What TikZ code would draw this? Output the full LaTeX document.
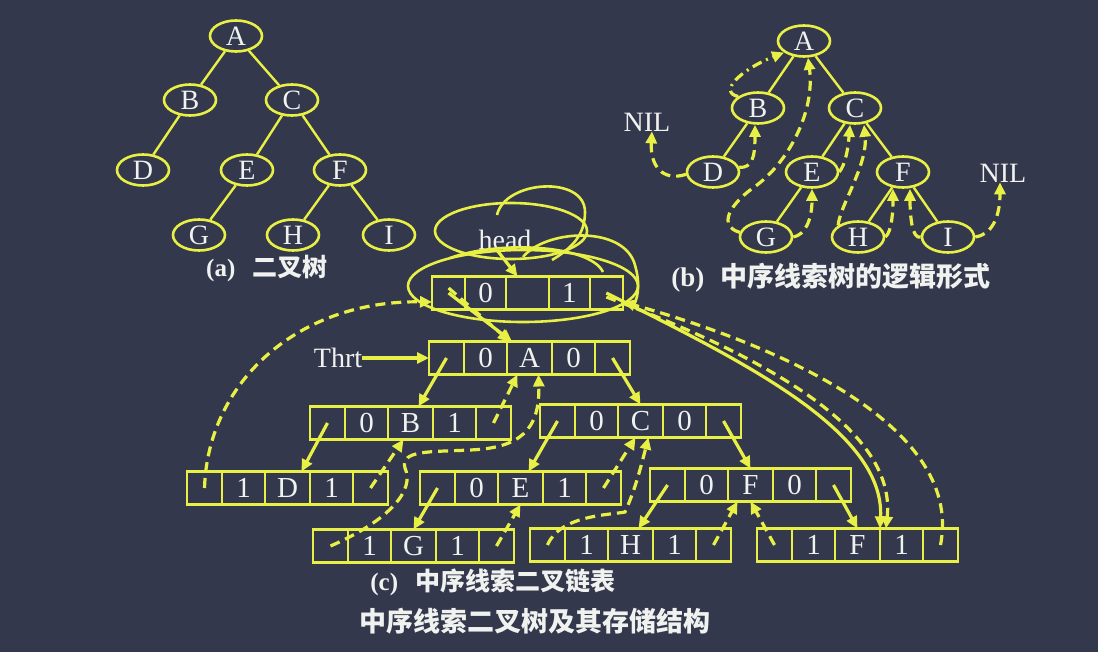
\documentclass[tikz,border=0pt]{standalone}
\usepackage{fontspec}
\setmainfont{Liberation Serif}
\newfontfamily\cjk{Noto Sans CJK SC}
\usetikzlibrary{positioning,arrows.meta,shapes.geometric}

\definecolor{slate}{RGB}{52,56,76}
\definecolor{lemon}{RGB}{232,240,70}
\definecolor{chalk}{RGB}{240,242,240}

\tikzset{
  tnode/.style={ellipse, draw=lemon, line width=2.6pt, minimum width=52pt,
    minimum height=31pt, inner sep=0pt, text=chalk,
    font=\fontsize{28}{30}\selectfont},
  cell/.style={rectangle, draw=lemon, line width=2.2pt, minimum height=33pt,
    inner sep=0pt, outer sep=0pt, text=chalk,
    font=\fontsize{29}{30}\selectfont},
  treeline/.style={lemon, line width=2.4pt},
  ptr/.style={lemon, line width=3.2pt, -{Triangle[length=12pt,width=11pt]}},
  thread/.style={ptr, dash pattern=on 10pt off 6pt},
  scrib/.style={lemon, line width=2.6pt},
  captxt/.style={text=chalk, inner sep=0pt}
}

% one node of the threaded list: lchild | ltag | data | rtag | rchild
\newcommand\linkrow[6][1]{%
  \node[cell, minimum width=#1*35pt, anchor=west] (#2l) at (#3) {};
  \node[cell, minimum width=#1*43pt, right=0pt of #2l] (#2lt) {#4};
  \node[cell, minimum width=#1*45pt, right=0pt of #2lt] (#2v) {#5};
  \node[cell, minimum width=#1*43pt, right=0pt of #2v] (#2rt) {#6};
  \node[cell, minimum width=#1*35pt, right=0pt of #2rt] (#2r) {};
}

\begin{document}
\begin{tikzpicture}[x=1pt,y=-1pt]
  \fill[slate] (0,0) rectangle (1098,652);
  \useasboundingbox (0,0) rectangle (1098,652);

  % (a) binary tree
  \node[tnode] (aA) at (236,36) {A};
  \node[tnode] (aB) at (190,100) {B};
  \node[tnode] (aC) at (292,100) {C};
  \node[tnode] (aD) at (143,170) {D};
  \node[tnode] (aE) at (247,170) {E};
  \node[tnode] (aF) at (340,170) {F};
  \node[tnode] (aG) at (199,235) {G};
  \node[tnode] (aH) at (293,235) {H};
  \node[tnode] (aI) at (389,235) {I};
  \draw[treeline] (aA) -- (aB) (aA) -- (aC) (aB) -- (aD) (aC) -- (aE)
    (aC) -- (aF) (aE) -- (aG) (aF) -- (aH) (aF) -- (aI);
  \node[captxt] (capa) at (267,268)
    {\fontsize{25}{27}\selectfont\textbf{(a)}\hspace{0.7em}{\cjk\bfseries 二叉树}};

  % (b) logical form of the threaded tree
  \node[tnode] (bA) at (804,41) {A};
  \node[tnode] (bB) at (758,108) {B};
  \node[tnode] (bC) at (855,108) {C};
  \node[tnode] (bD) at (713,172) {D};
  \node[tnode] (bE) at (812,172) {E};
  \node[tnode] (bF) at (903,172) {F};
  \node[tnode] (bG) at (766,237) {G};
  \node[tnode] (bH) at (858,237) {H};
  \node[tnode] (bI) at (948,237) {I};
  \node[captxt, font=\fontsize{28}{30}\selectfont] (nilL) at (647,122) {NIL};
  \node[captxt, font=\fontsize{28}{30}\selectfont] (nilR) at (1003,173) {NIL};
  \draw[treeline] (bA) -- (bB) (bA) -- (bC) (bB) -- (bD) (bC) -- (bE)
    (bC) -- (bF) (bE) -- (bG) (bF) -- (bH) (bF) -- (bI);
  \draw[thread] (bD.185) .. controls (662,182) and (650,165) .. ([xshift=5pt]nilL.south);
  \draw[thread] (bD.10) .. controls (752,168) and (755,158) .. ([xshift=-3pt]bB.south);
  \draw[ptr, dash pattern=on 10pt off 5pt on 2pt off 5pt]
    (bB.150) .. controls (718,92) and (740,70) .. (bA.210);
  \draw[thread] (bG.170) .. controls (718,226) and (728,205) .. (757,185)
    .. controls (790,160) and (815,110) .. ([xshift=4pt]bA.south);
  \draw[thread] (bG.east) .. controls (805,235) and (812,220) .. (bE.south);
  \draw[thread] (bE.east) .. controls (845,165) and (848,150) .. ([xshift=-5pt]bC.south);
  \draw[thread] (bH.150) .. controls (840,205) and (868,165) .. ([xshift=9pt]bC.south);
  \draw[thread] (bH.east) .. controls (892,232) and (893,210) .. ([xshift=-10pt]bF.south);
  \draw[thread] (bI.west) .. controls (912,240) and (910,215) .. ([xshift=7pt]bF.south);
  \draw[thread] (bI.east) .. controls (990,235) and (1000,220) .. ([xshift=-3pt]nilR.south);
  \node[captxt] (capb) at (831,278)
    {\fontsize{27}{29}\selectfont\textbf{(b)}\hspace{0.6em}{\cjk\bfseries 中序线索树的逻辑形式}};

  % (c) threaded linked list
  \linkrow[0.95]{head}{432,293}{0}{}{1}
  \linkrow{a}{429,358}{0}{A}{0}
  \linkrow{b}{310,423}{0}{B}{1}
  \linkrow{c}{540,421}{0}{C}{0}
  \linkrow{d}{187,488}{1}{D}{1}
  \linkrow{e}{420,488}{0}{E}{1}
  \linkrow{f}{650,485}{0}{F}{0}
  \linkrow{g}{313,546}{1}{G}{1}
  \linkrow{h}{530,545}{1}{H}{1}
  \linkrow{i}{757,545}{1}{F}{1}

  \node[captxt, font=\fontsize{28}{30}\selectfont] (headlbl) at (505,240) {head};
  \node[captxt, font=\fontsize{28}{30}\selectfont] (thrt) at (338,358) {Thrt};

  % hand-drawn marks round the head node
  \draw[scrib] (523,286) ellipse [x radius=115pt, y radius=36pt];
  \draw[scrib] (511,231) ellipse [x radius=76pt, y radius=28pt];
  \draw[scrib] (497,215) .. controls (505,180) and (585,175) .. (585,212)
    .. controls (585,235) and (572,248) .. (552,260);
  \draw[scrib] (523,257) .. controls (545,230) and (620,225) .. (634,262)
    .. controls (640,280) and (639,295) .. (634,305);
  \draw[scrib] (450,258) .. controls (500,240) and (590,245) .. (603,272);

  % child pointers
  \draw[ptr] ([xshift=-8pt]headlbl.south) -- ([xshift=-10pt]headv.north);
  \draw[ptr] (thrt.east) -- (al.west);
  \draw[ptr] (headl.center) -- ([xshift=5pt]av.north west);
  \draw[thread] ([yshift=5pt]headl.center) -- ([xshift=3pt]av.north west);
  \draw[ptr] (headr.center) .. controls (740,360) and (885,430) .. (irt.north west);
  \draw[thread] ([yshift=-4pt]headr.center) .. controls (752,352) and (897,425) .. ([xshift=6pt]irt.north west);
  \draw[ptr] (al.center) -- ([xshift=8pt]bv.north);
  \draw[ptr] (ar.center) -- (cv.north);
  \draw[ptr] (bl.center) -- ([xshift=14pt]dv.north);
  \draw[ptr] (cl.center) -- ([xshift=8pt]ev.north);
  \draw[ptr] (cr.center) -- (fv.north);
  \draw[ptr] (el.center) -- (gv.north);
  \draw[ptr] (fl.center) -- ([xshift=8pt]hv.north);
  \draw[ptr] (fr.center) -- (iv.north);

  % threads
  \draw[thread] (dl.center) .. controls (208,380) and (300,300) .. ([yshift=-9pt]headl.west);
  \draw[thread] (dr.center) -- ([xshift=-7pt]bv.south);
  \draw[thread] (br.center) -- ([xshift=-12pt]av.south);
  \draw[thread] (gl.center) .. controls (390,520) and (415,490) .. (405,468)
    .. controls (400,450) and (430,452) .. (470,450)
    .. controls (520,448) and (540,430) .. ([xshift=9pt]av.south);
  \draw[thread] (gr.center) -- (ev.south);
  \draw[thread] (er.center) -- ([xshift=-5pt]cv.south);
  \draw[thread] (hl.center) .. controls (560,515) and (610,515) .. (625,512)
    .. controls (635,490) and (640,470) .. ([xshift=8pt]cv.south);
  \draw[thread] (hr.center) -- ([xshift=-13pt]fv.south);
  \draw[thread] (il.center) -- (fv.south);
  \draw[thread] (ir.center) .. controls (965,420) and (760,340) .. ([yshift=-9pt]headr.east);

  \node[captxt] (capc) at (493,582)
    {\fontsize{25}{27}\selectfont\textbf{(c)}\hspace{0.7em}{\cjk\bfseries 中序线索二叉链表}};
  \node[captxt] (title) at (535,621)
    {\fontsize{27}{29}\selectfont\cjk\bfseries 中序线索二叉树及其存储结构};
\end{tikzpicture}
\end{document}
